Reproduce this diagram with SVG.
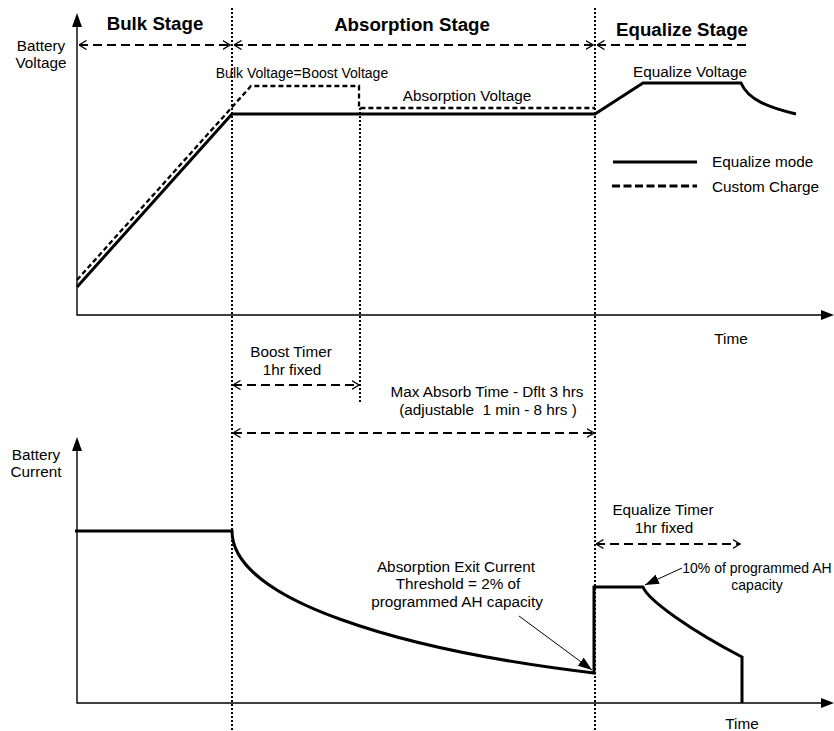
<svg xmlns="http://www.w3.org/2000/svg" width="834" height="731" viewBox="0 0 834 731">
<style>
text{font-family:"Liberation Sans",Arial,sans-serif;fill:#000}
.t{font-size:15.3px}
.s{font-size:14px}
.b{font-size:18.7px;font-weight:bold}
.ax{stroke:#000;stroke-width:1.4;fill:none}
.dot{stroke:#000;stroke-width:2;stroke-dasharray:2 2;fill:none}
.dim{stroke:#000;stroke-width:2.2;stroke-dasharray:9 5;fill:none}
.sol{stroke:#000;stroke-width:3;fill:none;stroke-linejoin:miter}
.dsh{stroke:#000;stroke-width:2.3;stroke-dasharray:5 3;fill:none}
.thin{stroke:#000;stroke-width:1;fill:none}
</style>
<defs>
<marker id="open" viewBox="0 0 8 10" refX="7.5" refY="5" markerWidth="8" markerHeight="10" markerUnits="userSpaceOnUse" orient="auto-start-reverse">
<path d="M0,0.5 L7.5,5 L0,9.5" fill="none" stroke="#000" stroke-width="1.3"/>
</marker>
<marker id="fill" viewBox="0 0 14 10" refX="14" refY="5" markerWidth="14" markerHeight="10" markerUnits="userSpaceOnUse" orient="auto">
<path d="M0,0 L14,5 L0,10 Z" fill="#000"/>
</marker>
</defs>

<g id="axes">
<path class="ax" d="M77,24 V315 H824"/>
<path d="M77,13 L72,27 L82,27 Z" fill="#000"/>
<path d="M834,315 L821,310 L821,320 Z" fill="#000"/>
<path class="ax" d="M77,448 V703 H824"/>
<path d="M77,437 L72,451 L82,451 Z" fill="#000"/>
<path d="M834,703 L821,698 L821,708 Z" fill="#000"/>
</g>

<g id="guides">
<path class="dot" d="M232,8 V731"/>
<path class="dot" d="M595,8 V731"/>
<path class="dot" d="M360,108 V404"/>
</g>

<g id="connectors">
<path class="dim" d="M79,45 H230" marker-start="url(#open)" marker-end="url(#open)"/>
<path class="dim" d="M234,45 H593" marker-start="url(#open)" marker-end="url(#open)"/>
<path class="dim" d="M597,45 H746" marker-start="url(#open)"/>
<path class="dim" d="M233,385 H359" marker-start="url(#open)" marker-end="url(#open)"/>
<path class="dim" d="M233,433 H594" marker-start="url(#open)" marker-end="url(#open)"/>
<path class="dim" d="M596,544 H740" marker-start="url(#open)" marker-end="url(#open)"/>
<path class="thin" d="M519,616 L592,670" marker-end="url(#fill)"/>
<path class="thin" d="M682,568 L645,585" marker-end="url(#fill)"/>
</g>

<g id="voltage-curves">
<path class="dsh" d="M77,280 L251,86 H359 V108 H595"/>
<path class="sol" d="M77,287 L232,114 H595 L643,83 H741 C748,100 770,108 796,114"/>
</g>

<g id="current-curve">
<path class="sol" d="M75,531 H232 C232,600 400,650 594,673 V587 H643 C648,600 690,630 742,657 V703"/>
</g>

<g id="legend">
<path class="sol" d="M613,162 H697"/>
<path d="M612,186 H697" stroke="#000" stroke-width="3" stroke-dasharray="8 3.5" fill="none"/>
<text class="t" x="712" y="167">Equalize mode</text>
<text class="t" x="712" y="192">Custom Charge</text>
</g>

<g id="stage-labels">
<text class="b" x="155" y="30" text-anchor="middle">Bulk Stage</text>
<text class="b" x="412" y="31" text-anchor="middle">Absorption Stage</text>
<text class="b" x="682" y="36" text-anchor="middle">Equalize Stage</text>
</g>

<g id="labels">
<text class="t" x="41" y="51" text-anchor="middle">Battery</text>
<text class="t" x="41" y="68" text-anchor="middle">Voltage</text>
<text class="t" x="36" y="460" text-anchor="middle">Battery</text>
<text class="t" x="36" y="477" text-anchor="middle">Current</text>
<text class="s" x="302" y="78" text-anchor="middle">Bulk Voltage=Boost Voltage</text>
<text class="t" x="467" y="101" text-anchor="middle">Absorption Voltage</text>
<text class="t" x="690" y="77" text-anchor="middle">Equalize Voltage</text>
<text class="t" x="731" y="344" text-anchor="middle">Time</text>
<text class="t" x="291" y="357" text-anchor="middle">Boost Timer</text>
<text class="t" x="292" y="375" text-anchor="middle">1hr fixed</text>
<text class="t" x="487" y="397" text-anchor="middle">Max Absorb Time - Dflt 3 hrs</text>
<text class="t" x="488" y="415" text-anchor="middle" xml:space="preserve">(adjustable  1 min - 8 hrs )</text>
<text class="t" x="663" y="515" text-anchor="middle">Equalize Timer</text>
<text class="t" x="664" y="533" text-anchor="middle">1hr fixed</text>
<text class="t" x="456" y="572" text-anchor="middle">Absorption Exit Current</text>
<text class="t" x="458" y="589" text-anchor="middle">Threshold = 2% of</text>
<text class="t" x="457" y="607" text-anchor="middle">programmed AH capacity</text>
<text class="s" x="757" y="573" text-anchor="middle">10% of programmed AH</text>
<text class="s" x="757" y="590" text-anchor="middle">capacity</text>
<text class="t" x="742" y="729" text-anchor="middle">Time</text>
</g>
</svg>
